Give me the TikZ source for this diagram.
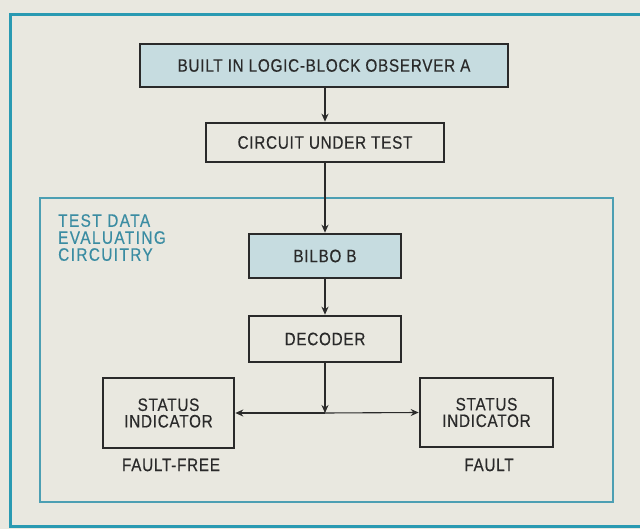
\documentclass[tikz,border=0pt]{standalone}
\usepackage{fontspec}
\setmainfont[FakeStretch=0.85, LetterSpace=4, FakeBold=0.4]{Liberation Sans}
\newfontfamily\groupfont[FakeStretch=0.85, LetterSpace=8, FakeBold=0.4]{Liberation Sans}
\usetikzlibrary{arrows.meta}

\definecolor{paper}{HTML}{E9E8E0}
\definecolor{bilbo fill}{HTML}{C6DCE0}
\definecolor{box edge}{HTML}{2A2A2A}
\definecolor{frame edge}{HTML}{2A9AB2}
\definecolor{group edge}{HTML}{4C9FB3}
\definecolor{group text}{HTML}{3A8CA2}
\newcommand\blockfont{\fontsize{18}{16.5}\selectfont}
\tikzset{block/.style={draw=box edge, line width=2.6pt, fill=paper, text=box edge,
        font=\blockfont, align=center, inner sep=0pt},
    shaded/.style={block, fill=bilbo fill},
    flow/.style={draw=box edge, line width=1.1pt, -{Stealth[length=8pt,width=7pt]}},
    caption/.style={text=box edge, font=\blockfont},
    outer frame/.style={draw=frame edge, line width=3pt},
    group frame/.style={draw=group edge, line width=1.5pt}}

\begin{document}
\begin{tikzpicture}[x=1pt, y=-1pt]
        \useasboundingbox (0,0) rectangle (640,529);
        \fill[paper] (0,0) rectangle (640,529);
        \draw[outer frame] (641,15) -- (10,15) -- (10,526) -- (641,526);

        % Observer A and the circuit it drives
        \node[shaded, minimum width=368pt, minimum height=43pt] (observer) at (324,65.5)
            {BUILT IN LOGIC-BLOCK OBSERVER A};
        \node[block, minimum width=238pt, minimum height=39pt] (cut) at (325,142.5)
            {CIRCUIT UNDER TEST};

        % Test data evaluating circuitry
        \draw[group frame] (40,198) rectangle (613,502);
        \node[anchor=north west, align=left, text=group text,
            font=\groupfont\fontsize{18}{17}\selectfont,
            inner sep=0pt] (grouplabel) at (58,214) {TEST DATA\\EVALUATING\\CIRCUITRY};
        \node[shaded, minimum width=152pt, minimum height=44pt] (bilbob) at (325,256) {BILBO B};
        \node[block, minimum width=152pt, minimum height=46pt] (decoder) at (325,339) {DECODER};
        \node[block, minimum width=131pt, minimum height=70pt] (okstatus) at (168.5,413)
            {STATUS\\INDICATOR};
        \node[block, minimum width=133pt, minimum height=69pt] (badstatus) at (486.5,412.5)
            {STATUS\\INDICATOR};
        \node[caption] (okname) at (171,465) {FAULT-FREE};
        \node[caption] (badname) at (489,465) {FAULT};
        \coordinate (split) at (325,413);

        % Connectors
        \draw[flow] (observer.south -| cut.north) -- (cut.north);
        \draw[flow] (cut) -- (bilbob);
        \draw[flow] (bilbob) -- (decoder);
        \draw[flow] (decoder) -- (split);
        \draw[flow] (split) -- (okstatus.east);
        \draw[flow] (split) -- (badstatus.west);
    \end{tikzpicture}
\end{document}
